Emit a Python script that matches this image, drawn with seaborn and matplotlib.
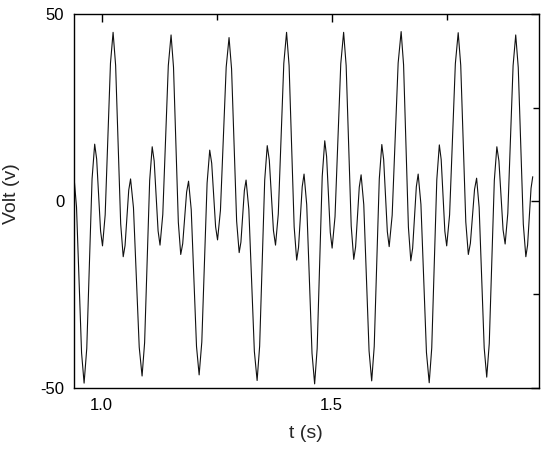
import pandas as pd
import numpy as np
import matplotlib
matplotlib.use('Agg')
import matplotlib.pyplot as plt
import seaborn as sns

# waveform samples: each extremum plus two points on every flank
t_s = [0.940, 0.9455, 0.9565,
       0.962, 0.9678, 0.9793, 0.985, 0.9893, 0.9978, 1.002, 1.0078, 1.0193,
       1.025, 1.0305, 1.0415, 1.047, 1.051, 1.059, 1.063, 1.0693, 1.0818,
       1.088, 1.0935, 1.1045, 1.110, 1.1143, 1.1228, 1.127, 1.133, 1.145,
       1.151, 1.1563, 1.1668, 1.172, 1.1763, 1.1848, 1.189, 1.1948, 1.2063,
       1.212, 1.2178, 1.2293, 1.235, 1.2393, 1.2478, 1.252, 1.2583, 1.2708,
       1.277, 1.2825, 1.2935, 1.299, 1.3028, 1.3103, 1.314, 1.320, 1.332,
       1.338, 1.3435, 1.3545, 1.360, 1.3645, 1.3735, 1.378, 1.384, 1.396,
       1.402, 1.4075, 1.4185, 1.424, 1.428, 1.436, 1.440, 1.4458, 1.4573,
       1.463, 1.4685, 1.4795, 1.485, 1.489, 1.497, 1.501, 1.5073, 1.5198,
       1.526, 1.5315, 1.5425, 1.548, 1.552, 1.560, 1.564, 1.5698, 1.5813,
       1.587, 1.5925, 1.6035, 1.609, 1.613, 1.621, 1.625, 1.6315, 1.6445,
       1.651, 1.6563, 1.6668, 1.672, 1.676, 1.684, 1.688, 1.694, 1.706,
       1.712, 1.7175, 1.7285, 1.734, 1.738, 1.746, 1.750, 1.7563, 1.7688,
       1.775, 1.7805, 1.7915, 1.797, 1.8015, 1.8105, 1.815, 1.8205, 1.8315,
       1.837, 1.8425, 1.8535, 1.859, 1.8635, 1.8725, 1.877, 1.8828, 1.8943,
       1.900, 1.9055, 1.9165, 1.922, 1.9258, 1.9333, 1.937]
volt = [6.5, -1.6, -40.6,
        -48.7, -39.4, 5.9, 15.2, 11.2, -8.0, -12.0, -3.7, 36.8,
        45.1, 36.3, -6.1, -14.9, -11.9, 2.9, 5.9, -1.8, -39.1,
        -46.8, -37.9, 5.5, 14.5, 10.7, -8.0, -11.8, -3.6, 36.2,
        44.4, 35.8, -5.7, -14.3, -11.4, 2.4, 5.3, -2.3, -38.9,
        -46.5, -37.7, 4.8, 13.6, 10.1, -6.9, -10.4, -2.5, 35.8,
        43.7, 35.3, -5.4, -13.8, -11.0, 2.8, 5.6, -2.2, -40.2,
        -48.0, -38.8, 5.6, 14.8, 10.9, -7.9, -11.8, -3.5, 36.8,
        45.1, 36.2, -6.9, -15.8, -12.4, 3.8, 7.2, -1.0, -40.7,
        -48.9, -39.4, 6.6, 16.1, 11.9, -8.4, -12.6, -4.2, 36.7,
        45.1, 36.2, -6.7, -15.6, -12.3, 3.7, 7.0, -1.0, -40.1,
        -48.1, -38.9, 5.9, 15.1, 11.1, -8.2, -12.2, -3.8, 36.9,
        45.3, 36.4, -7.0, -16.0, -12.6, 3.8, 7.2, -0.9, -40.5,
        -48.6, -39.3, 5.7, 15.0, 11.1, -8.1, -12.0, -3.7, 36.7,
        45.0, 36.3, -5.6, -14.3, -11.3, 3.1, 6.1, -1.7, -39.3,
        -47.1, -38.1, 5.5, 14.5, 10.7, -7.7, -11.5, -3.3, 36.2,
        44.4, 35.7, -6.2, -14.9, -11.8, 3.4, 6.5]

x_major = [1.0, 1.5]
x_minor = [1.25, 1.75]
y_major = [-50, 0, 50]
y_minor = [-25, 25]

df = pd.DataFrame({'t': t_s, 'v': volt})

sns.set_style('white')
plt.rcParams['font.family'] = ['Liberation Sans', 'DejaVu Sans']

fig = plt.figure(figsize=(5.5, 4.49), dpi=100)
ax = fig.add_axes([0.1345, 0.1359, 0.845, 0.8329])

sns.lineplot(data=df, x='t', y='v', color='#111111', linewidth=0.8, ax=ax)

ax.set_xlim(0.94, 1.95)
ax.set_ylim(-50, 50)
ax.set_xticks(x_major)
ax.set_xticks(x_minor, minor=True)
ax.set_yticks(y_major)
ax.set_yticks(y_minor, minor=True)
ax.set_xticklabels(['1.0', '1.5'])
ax.set_yticklabels(['-50', '0', '50'])
ax.tick_params(which='both', direction='in', top=True, right=True,
               labelsize=12, colors='black', pad=7)
ax.tick_params(which='major', length=6, width=1)
ax.tick_params(which='minor', length=4, width=1)
for s in ax.spines.values():
    s.set_visible(True)
    s.set_color('black')
    s.set_linewidth(1.0)

ax.set_xlabel('t (s)', fontsize=14, labelpad=9)
ax.set_ylabel('Volt (v)', fontsize=14)
ax.yaxis.set_label_coords(-0.117, 0.521)

fig.savefig('out.png', dpi=100)
